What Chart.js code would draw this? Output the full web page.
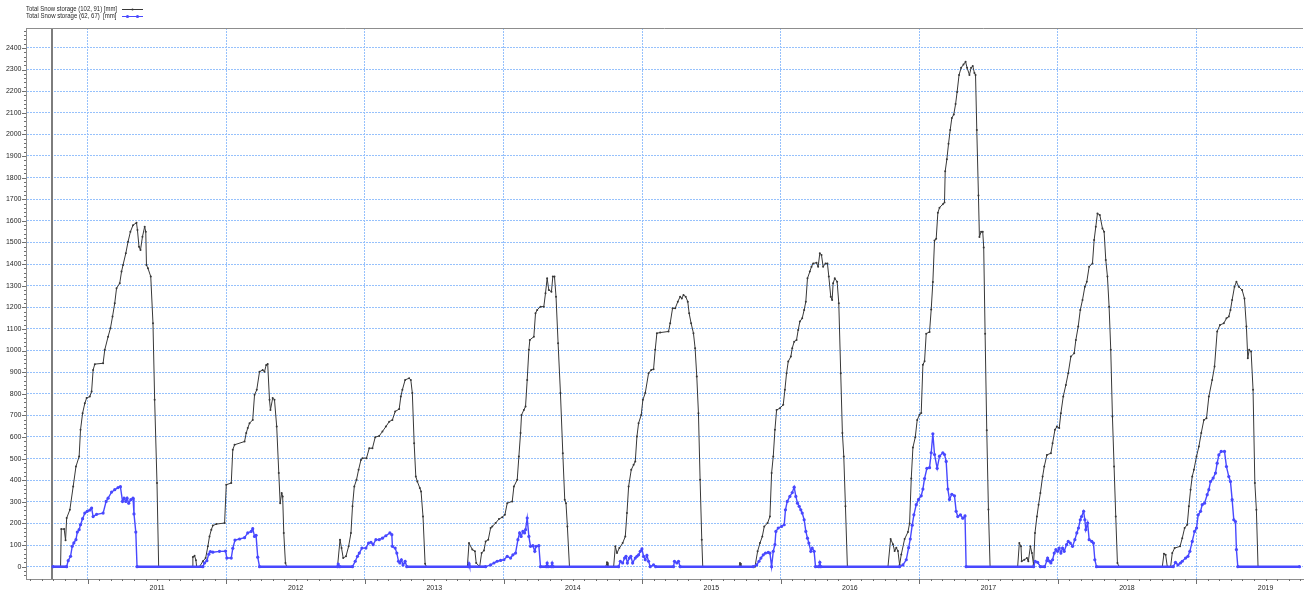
<!DOCTYPE html>
<html>
<head>
<meta charset="utf-8">
<title>Total Snow storage</title>
<script src="https://cdn.jsdelivr.net/npm/chart.js@4.4.1/dist/chart.umd.min.js"></script>
<style>
  html, body { margin: 0; padding: 0; background: #ffffff; }
  canvas { display: block; }
</style>
</head>
<body>
<canvas id="chart" width="1307" height="592"></canvas>
<script>
// Series names shown in the legend
const seriesLabels = ['Total Snow storage (102, 91) [mm]', 'Total Snow storage (62, 67)  [mm]'];

// Simulation period (decimal years): 1 Oct 2010 .. 30 Sep 2019
const periodStart = 2010.748;
const periodEnd = 2019.745;

// Snow storage at cell (102, 91) in mm, as [decimal year, value]
const storage102_91 = [
  [2010.748,0],[2010.803,0],[2010.808,174],[2010.829,174],[2010.839,122],[2010.847,225],[2010.870,263],[2010.894,371],[2010.914,463],[2010.937,510],[2010.947,633],[2010.962,710],[2010.978,756],[2010.991,780],[2011.014,787],[2011.027,810],[2011.038,910],[2011.050,937],[2011.110,941],[2011.122,1003],[2011.146,1064],[2011.163,1103],[2011.178,1157],[2011.194,1219],[2011.207,1288],[2011.230,1311],[2011.243,1365],[2011.254,1396],[2011.274,1450],[2011.290,1503],[2011.307,1549],[2011.326,1580],[2011.351,1591],[2011.358,1557],[2011.369,1480],[2011.380,1465],[2011.394,1526],[2011.410,1573],[2011.418,1549],[2011.423,1396],[2011.434,1380],[2011.454,1342],[2011.470,1126],[2011.482,772],[2011.499,387],[2011.511,0],
  [2011.754,0],[2011.758,45],[2011.770,50],[2011.780,30],[2011.785,0],[2011.806,0],[2011.830,25],[2011.850,40],[2011.866,94],[2011.878,140],[2011.891,171],[2011.902,190],[2011.927,197],[2011.987,202],[2011.999,379],[2012.035,387],[2012.046,541],[2012.059,564],[2012.131,579],[2012.143,618],[2012.154,641],[2012.167,664],[2012.190,679],[2012.203,795],[2012.219,818],[2012.239,902],[2012.262,910],[2012.275,902],[2012.287,933],[2012.298,938],[2012.311,772],[2012.318,725],[2012.334,780],[2012.347,772],[2012.363,648],[2012.378,433],[2012.388,294],[2012.399,341],[2012.406,325],[2012.414,156],[2012.426,17],[2012.435,0],
  [2012.802,0],[2012.820,125],[2012.831,86],[2012.843,40],[2012.863,48],[2012.882,94],[2012.899,156],[2012.910,279],[2012.923,371],[2012.939,402],[2012.954,448],[2012.971,494],[2012.982,502],[2013.011,502],[2013.031,548],[2013.054,548],[2013.074,599],[2013.103,605],[2013.126,625],[2013.151,648],[2013.175,671],[2013.198,679],[2013.218,718],[2013.247,729],[2013.259,787],[2013.270,818],[2013.290,864],[2013.319,872],[2013.331,864],[2013.342,803],[2013.355,571],[2013.367,417],[2013.378,394],[2013.396,364],[2013.405,348],[2013.419,232],[2013.434,14],[2013.443,0],
  [2013.739,0],[2013.751,109],[2013.775,79],[2013.794,71],[2013.803,17],[2013.828,0],[2013.842,63],[2013.859,75],[2013.871,117],[2013.890,125],[2013.907,179],[2013.919,186],[2013.943,202],[2013.967,220],[2013.991,229],[2014.010,240],[2014.027,294],[2014.063,302],[2014.075,371],[2014.099,402],[2014.111,510],[2014.123,618],[2014.130,702],[2014.147,725],[2014.159,741],[2014.171,864],[2014.183,1003],[2014.190,1049],[2014.219,1064],[2014.231,1172],[2014.243,1188],[2014.267,1203],[2014.291,1203],[2014.303,1265],[2014.315,1334],[2014.327,1280],[2014.346,1272],[2014.356,1342],[2014.368,1342],[2014.379,1249],[2014.394,1034],[2014.411,803],[2014.428,525],[2014.442,310],[2014.451,294],[2014.461,186],[2014.476,0],
  [2014.739,0],[2014.747,20],[2014.754,0],[2014.795,0],[2014.807,94],[2014.819,63],[2014.836,86],[2014.860,109],[2014.879,140],[2014.891,248],[2014.903,371],[2014.922,448],[2014.939,471],[2014.951,487],[2014.963,602],[2014.975,664],[2014.994,702],[2015.006,772],[2015.023,803],[2015.047,895],[2015.066,910],[2015.083,913],[2015.095,1003],[2015.107,1080],[2015.131,1083],[2015.191,1088],[2015.203,1126],[2015.220,1195],[2015.239,1195],[2015.258,1226],[2015.275,1249],[2015.287,1241],[2015.299,1257],[2015.315,1249],[2015.330,1226],[2015.340,1172],[2015.354,1126],[2015.371,1080],[2015.383,1010],[2015.395,880],[2015.407,710],[2015.419,402],[2015.431,125],[2015.438,0],
  [2015.700,0],[2015.707,17],[2015.714,0],[2015.815,0],[2015.834,71],[2015.851,109],[2015.868,140],[2015.882,186],[2015.906,202],[2015.923,232],[2015.935,433],[2015.947,510],[2015.959,633],[2015.971,725],[2015.995,733],[2016.019,749],[2016.031,818],[2016.043,895],[2016.055,949],[2016.074,972],[2016.084,1011],[2016.098,1041],[2016.115,1049],[2016.127,1095],[2016.139,1134],[2016.156,1149],[2016.170,1188],[2016.182,1226],[2016.194,1334],[2016.211,1365],[2016.223,1388],[2016.235,1403],[2016.259,1406],[2016.271,1388],[2016.283,1450],[2016.295,1442],[2016.307,1388],[2016.324,1403],[2016.338,1403],[2016.348,1342],[2016.362,1249],[2016.372,1234],[2016.379,1311],[2016.391,1334],[2016.408,1318],[2016.420,1219],[2016.434,895],[2016.446,618],[2016.456,510],[2016.468,279],[2016.482,0],
  [2016.775,0],[2016.794,128],[2016.811,104],[2016.823,72],[2016.835,88],[2016.847,72],[2016.859,8],[2016.871,56],[2016.895,128],[2016.919,160],[2016.931,200],[2016.943,408],[2016.955,551],[2016.972,599],[2016.986,679],[2017.003,703],[2017.015,711],[2017.027,934],[2017.039,950],[2017.051,1078],[2017.075,1086],[2017.087,1190],[2017.099,1317],[2017.111,1509],[2017.123,1517],[2017.135,1637],[2017.147,1661],[2017.171,1677],[2017.183,1685],[2017.188,1829],[2017.200,1885],[2017.212,1956],[2017.224,2020],[2017.236,2076],[2017.250,2092],[2017.263,2140],[2017.274,2196],[2017.288,2275],[2017.303,2308],[2017.320,2323],[2017.335,2336],[2017.346,2308],[2017.363,2275],[2017.375,2308],[2017.387,2316],[2017.399,2284],[2017.407,2275],[2017.416,2020],[2017.428,1717],[2017.435,1525],[2017.447,1549],[2017.459,1549],[2017.466,1477],[2017.476,1078],[2017.488,631],[2017.500,264],[2017.512,0],
  [2017.711,0],[2017.723,109],[2017.735,94],[2017.740,25],[2017.759,32],[2017.778,40],[2017.788,25],[2017.803,94],[2017.814,63],[2017.826,8],[2017.836,156],[2017.850,232],[2017.862,287],[2017.875,341],[2017.891,417],[2017.903,463],[2017.922,517],[2017.951,525],[2017.963,571],[2017.980,633],[2017.994,648],[2018.011,641],[2018.023,710],[2018.040,787],[2018.059,841],[2018.076,895],[2018.095,972],[2018.119,987],[2018.131,1049],[2018.148,1111],[2018.163,1188],[2018.179,1234],[2018.196,1295],[2018.210,1318],[2018.227,1388],[2018.251,1403],[2018.263,1511],[2018.275,1573],[2018.287,1634],[2018.304,1627],[2018.323,1565],[2018.335,1549],[2018.347,1419],[2018.359,1342],[2018.371,1203],[2018.383,1003],[2018.395,695],[2018.407,463],[2018.419,232],[2018.431,17],[2018.443,0],
  [2018.755,0],[2018.767,60],[2018.779,55],[2018.791,0],[2018.815,0],[2018.827,63],[2018.844,86],[2018.883,94],[2018.899,132],[2018.916,179],[2018.935,194],[2018.947,279],[2018.959,356],[2018.971,417],[2018.983,448],[2019.002,510],[2019.019,556],[2019.036,618],[2019.055,679],[2019.074,687],[2019.091,787],[2019.115,864],[2019.132,926],[2019.151,1088],[2019.171,1118],[2019.199,1126],[2019.218,1149],[2019.235,1157],[2019.247,1188],[2019.259,1234],[2019.276,1295],[2019.290,1318],[2019.307,1295],[2019.331,1280],[2019.348,1241],[2019.362,1111],[2019.372,964],[2019.382,1003],[2019.396,995],[2019.410,818],[2019.423,387],[2019.434,263],[2019.446,0],[2019.745,0]
];

// Snow storage at cell (62, 67) in mm, as [decimal year, value]
const storage62_67 = [
  [2010.748,0],[2010.847,0],[2010.858,28],[2010.875,48],[2010.887,94],[2010.899,110],[2010.914,125],[2010.924,160],[2010.937,171],[2010.947,194],[2010.962,222],[2010.978,248],[2010.995,256],[2011.014,262],[2011.027,271],[2011.038,232],[2011.063,242],[2011.110,248],[2011.132,302],[2011.146,317],[2011.171,345],[2011.194,356],[2011.218,366],[2011.235,370],[2011.250,302],[2011.261,317],[2011.274,302],[2011.283,317],[2011.295,294],[2011.310,310],[2011.326,317],[2011.333,244],[2011.346,160],[2011.355,0],
  [2011.830,0],[2011.842,17],[2011.859,28],[2011.873,58],[2011.884,70],[2011.902,67],[2011.950,71],[2011.994,72],[2012.003,40],[2012.035,40],[2012.046,85],[2012.062,123],[2012.095,128],[2012.131,134],[2012.154,156],[2012.179,163],[2012.190,176],[2012.203,140],[2012.214,145],[2012.226,44],[2012.239,0],
  [2012.802,0],[2012.807,12],[2012.818,0],[2012.910,0],[2012.930,25],[2012.946,48],[2012.959,63],[2012.978,86],[2013.007,86],[2013.026,109],[2013.043,113],[2013.059,102],[2013.079,125],[2013.103,125],[2013.126,132],[2013.151,143],[2013.180,156],[2013.194,148],[2013.198,94],[2013.218,86],[2013.230,63],[2013.242,25],[2013.252,17],[2013.263,32],[2013.275,8],[2013.290,25],[2013.302,0],
  [2013.748,0],[2013.751,14],[2013.756,0],[2013.871,0],[2013.907,8],[2013.931,17],[2013.954,25],[2013.979,29],[2014.003,32],[2014.027,48],[2014.051,40],[2014.068,55],[2014.087,63],[2014.104,125],[2014.116,156],[2014.127,140],[2014.140,163],[2014.152,156],[2014.159,171],[2014.171,225],[2014.183,140],[2014.195,94],[2014.212,97],[2014.226,71],[2014.235,94],[2014.255,97],[2014.267,0],[2014.308,0],[2014.315,17],[2014.322,0],[2014.345,0],[2014.351,17],[2014.358,0],
  [2014.831,0],[2014.843,25],[2014.860,17],[2014.874,40],[2014.884,48],[2014.894,17],[2014.908,40],[2014.919,48],[2014.932,17],[2014.951,40],[2014.963,48],[2014.975,55],[2014.987,71],[2014.999,82],[2015.011,48],[2015.023,32],[2015.035,52],[2015.047,25],[2015.059,0],[2015.083,8],[2015.098,0],[2015.227,0],[2015.234,25],[2015.251,17],[2015.263,25],[2015.275,0],
  [2015.803,0],[2015.827,8],[2015.844,25],[2015.858,40],[2015.875,55],[2015.891,63],[2015.911,66],[2015.923,63],[2015.935,0],[2015.947,71],[2015.959,102],[2015.966,163],[2015.983,179],[2016.007,186],[2016.026,194],[2016.035,263],[2016.048,302],[2016.067,325],[2016.084,343],[2016.098,368],[2016.110,325],[2016.122,294],[2016.134,279],[2016.146,263],[2016.156,248],[2016.170,217],[2016.182,163],[2016.194,132],[2016.204,109],[2016.218,71],[2016.228,86],[2016.242,71],[2016.252,0],[2016.276,0],[2016.283,20],[2016.290,0],
  [2016.859,0],[2016.883,8],[2016.907,32],[2016.924,88],[2016.936,128],[2016.950,192],[2016.962,240],[2016.979,287],[2016.996,311],[2017.015,328],[2017.027,359],[2017.039,408],[2017.056,455],[2017.075,458],[2017.087,527],[2017.099,615],[2017.111,519],[2017.130,455],[2017.147,511],[2017.171,527],[2017.183,519],[2017.195,487],[2017.207,359],[2017.219,311],[2017.236,335],[2017.255,328],[2017.267,256],[2017.279,232],[2017.298,240],[2017.315,224],[2017.331,235],[2017.339,0],
  [2017.826,0],[2017.838,25],[2017.855,20],[2017.875,0],[2017.906,0],[2017.922,28],[2017.927,40],[2017.942,25],[2017.951,17],[2017.963,32],[2017.975,63],[2017.987,79],[2017.999,71],[2018.011,86],[2018.023,63],[2018.035,86],[2018.047,71],[2018.064,102],[2018.076,117],[2018.091,109],[2018.107,94],[2018.124,125],[2018.138,156],[2018.150,179],[2018.163,217],[2018.172,232],[2018.187,256],[2018.196,217],[2018.203,171],[2018.216,202],[2018.227,125],[2018.246,117],[2018.258,109],[2018.268,32],[2018.280,0],
  [2018.834,0],[2018.850,20],[2018.868,8],[2018.886,17],[2018.899,25],[2018.923,40],[2018.940,48],[2018.954,71],[2018.971,117],[2018.988,163],[2019.002,179],[2019.014,240],[2019.031,256],[2019.043,287],[2019.060,294],[2019.079,333],[2019.091,356],[2019.103,394],[2019.122,410],[2019.139,433],[2019.151,479],[2019.163,517],[2019.180,533],[2019.204,533],[2019.218,463],[2019.235,417],[2019.247,394],[2019.259,310],[2019.271,217],[2019.283,209],[2019.290,79],[2019.300,0],[2019.745,0]
];

// Calendar years labelled under the time axis
const yearLabels = [2011, 2012, 2013, 2014, 2015, 2016, 2017, 2018, 2019];

// Labelled values on the storage axis (mm)
const storageTicks = [0, 100, 200, 300, 400, 500, 600, 700, 800, 900, 1000, 1100, 1200,
  1300, 1400, 1500, 1600, 1700, 1800, 1900, 2000, 2100, 2200, 2300, 2400];

const GRID_BLUE = 'rgb(150,193,252)';
const AXIS_GREY = '#8d8d8d';
const LINE_DARK = '#383838';
const LINE_BLUE = '#4848ff';
const TEXT_COLOR = '#262626';
const FONT_FAMILY = '"Liberation Sans", Arial, sans-serif';

const toPoints = rows => rows.map(r => ({ x: r[0], y: r[1] }));

// Draws text squeezed horizontally to a given width
function fitText(ctx, text, x, y, width) {
  const w = ctx.measureText(text).width;
  const k = Math.min(1, width / w);
  ctx.save();
  ctx.translate(x, y);
  ctx.scale(k, 1);
  ctx.fillText(text, 0, 0);
  ctx.restore();
}

// Tick marks, period-start marker, frame and legend
const decorations = {
  id: 'decorations',
  beforeDatasetsDraw(chart) {
    const { ctx, chartArea: a, scales: { x } } = chart;
    const sx = Math.round(x.getPixelForValue(periodStart)) - 1;
    ctx.save();
    ctx.fillStyle = '#7d7d7d';
    ctx.fillRect(sx - 1, a.top, 2, a.bottom - a.top);
    ctx.restore();
  },
  afterDraw(chart) {
    const { ctx, chartArea: a, scales: { x, y } } = chart;
    ctx.save();
    ctx.strokeStyle = AXIS_GREY;
    ctx.lineWidth = 1;

    // top frame line
    ctx.beginPath();
    ctx.moveTo(a.left, a.top + 0.5);
    ctx.lineTo(a.right, a.top + 0.5);
    ctx.stroke();

    // storage axis: major ticks every 100, minor every 20
    ctx.strokeStyle = '#6f6f6f';
    ctx.beginPath();
    for (let v = -40; v <= 2480; v += 20) {
      const py = Math.round(y.getPixelForValue(v)) + 0.5;
      const len = v % 100 === 0 ? 4 : 2;
      ctx.moveTo(a.left - len, py);
      ctx.lineTo(a.left, py);
    }
    // time axis: year ticks and month ticks
    for (let yr = 2010; yr <= 2019; yr++) {
      for (let m = 0; m < 12; m++) {
        const v = yr + m / 12;
        if (v < x.min || v > x.max) continue;
        const px = Math.round(x.getPixelForValue(v)) + 0.5;
        const len = m === 0 ? 5 : 2;
        ctx.moveTo(px, a.bottom);
        ctx.lineTo(px, a.bottom + len);
      }
    }
    ctx.stroke();

    // legend
    ctx.font = '7px ' + FONT_FAMILY;
    ctx.fillStyle = TEXT_COLOR;
    ctx.textBaseline = 'middle';
    ctx.textAlign = 'left';
    fitText(ctx, seriesLabels[0], 26, 9, 91);
    fitText(ctx, seriesLabels[1], 26, 16.5, 90.5);

    ctx.lineWidth = 1;
    ctx.strokeStyle = LINE_DARK;
    ctx.beginPath();
    ctx.moveTo(122, 9.5);
    ctx.lineTo(143, 9.5);
    ctx.stroke();
    ctx.fillStyle = LINE_DARK;
    ctx.beginPath();
    ctx.arc(132.5, 9.5, 1, 0, Math.PI * 2);
    ctx.fill();

    ctx.strokeStyle = LINE_BLUE;
    ctx.beginPath();
    ctx.moveTo(122, 16.5);
    ctx.lineTo(143, 16.5);
    ctx.stroke();
    ctx.fillStyle = LINE_BLUE;
    [127.5, 137.5].forEach(cx => {
      ctx.beginPath();
      ctx.arc(cx, 16.5, 1.6, 0, Math.PI * 2);
      ctx.fill();
    });
    ctx.restore();
  }
};

new Chart(document.getElementById('chart'), {
  type: 'line',
  data: {
    datasets: [
      {
        label: seriesLabels[0],
        data: toPoints(storage102_91),
        borderColor: LINE_DARK,
        backgroundColor: LINE_DARK,
        borderWidth: 1,
        pointRadius: 1,
        pointBorderWidth: 0,
        pointBackgroundColor: LINE_DARK,
        tension: 0,
        fill: false,
        order: 1
      },
      {
        label: seriesLabels[1],
        data: toPoints(storage62_67),
        borderColor: LINE_BLUE,
        backgroundColor: LINE_BLUE,
        borderWidth: 1.4,
        pointRadius: 1.6,
        pointBorderWidth: 0,
        pointBackgroundColor: LINE_BLUE,
        tension: 0,
        fill: false,
        order: 0,
        segment: {
          // snow-free stretches are drawn as a heavier base line
          borderWidth: ctx => (ctx.p0.parsed.y === 0 && ctx.p1.parsed.y === 0 ? 2.6 : 1.4)
        }
      }
    ]
  },
  options: {
    responsive: false,
    animation: false,
    devicePixelRatio: 1,
    parsing: false,
    layout: { padding: { top: 28, right: 1, left: 0, bottom: 0 } },
    plugins: {
      legend: { display: false },
      tooltip: { enabled: false },
      title: { display: false }
    },
    scales: {
      x: {
        type: 'linear',
        min: 2010.5535,
        max: 2019.7705,
        afterFit(scale) { scale.height = 13; },
        afterBuildTicks(scale) {
          const t = [];
          yearLabels.forEach(yr => {
            t.push({ value: yr });
            t.push({ value: yr + 0.5 });
          });
          scale.ticks = t;
        },
        ticks: {
          autoSkip: false,
          maxRotation: 0,
          padding: 5,
          color: TEXT_COLOR,
          font: { family: FONT_FAMILY, size: 7 },
          callback: v => (v % 1 === 0.5 ? String(Math.floor(v)) : '')
        },
        grid: {
          drawTicks: false,
          lineWidth: 1,
          color: ctx => (ctx.tick && ctx.tick.value % 1 === 0 ? GRID_BLUE : 'rgba(0,0,0,0)')
        },
        border: { display: true, color: AXIS_GREY, width: 1, dash: [2, 1] }
      },
      y: {
        type: 'linear',
        min: -57,
        max: 2492,
        afterFit(scale) { scale.width = 26; },
        afterBuildTicks(scale) {
          scale.ticks = storageTicks.map(v => ({ value: v }));
        },
        ticks: {
          padding: 4.5,
          color: TEXT_COLOR,
          font: { family: FONT_FAMILY, size: 7 },
          callback: v => String(v)
        },
        grid: {
          drawTicks: false,
          lineWidth: 1,
          color: GRID_BLUE
        },
        border: { display: true, color: AXIS_GREY, width: 1, dash: [2, 1] }
      }
    }
  },
  plugins: [decorations]
});
</script>
</body>
</html>
